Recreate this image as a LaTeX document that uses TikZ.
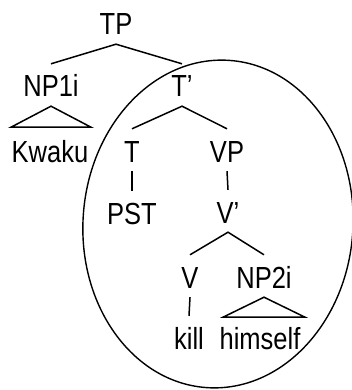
\documentclass[tikz,border=0pt]{standalone}
\usepackage{fontspec}
\setmainfont{Liberation Sans}
\usepackage{graphicx}
\newcommand{\tlab}[1]{\scalebox{1.02}[1.22]{#1}}
\begin{document}
\begin{tikzpicture}[x=1pt,y=-1pt,
  tn/.style={inner sep=0pt, text height=33pt, text depth=9pt, anchor=base,
    font=\fontsize{25}{28}\selectfont},
  edge/.style={line width=1.5pt},
  ring/.style={line width=1.4pt}]
\useasboundingbox (0,0) rectangle (352,390);
\node[tn] (TP) at (116,35) {\tlab{TP}};
\node[tn] (NP1i) at (51,97) {\tlab{NP1i}};
\node[tn] (Kwaku) at (50,162) {\tlab{Kwaku}};
\node[tn] (Tbar) at (182,97) {\tlab{T'}};
\node[tn] (T) at (132,162) {\tlab{T}};
\node[tn] (VP) at (227,162) {\tlab{VP}};
\node[tn] (PST) at (132,224) {\tlab{PST}};
\node[tn] (Vbar) at (228,223) {\tlab{V'}};
\node[tn] (V) at (190,288) {\tlab{V}};
\node[tn] (NP2i) at (264,288) {\tlab{NP2i}};
\node[tn] (kill) at (189,349) {\tlab{kill}};
\node[tn] (himself) at (260,349) {\tlab{himself}};
\draw[edge] (NP1i.north) -- (TP.south) -- (Tbar.north);
\draw[edge] (T.north) -- (Tbar.south) -- (VP.north);
\draw[edge] (V.north) -- (Vbar.south) -- (NP2i.north);
\draw[edge] (T.south) -- (PST.north);
\draw[edge] (VP.south) -- (Vbar.north);
\draw[edge] (V.south) -- (kill.north);
\draw[edge] (NP1i.south) -- ++(-40,21) -- ++(80,0) -- cycle;
\draw[edge] (NP2i.south) -- ++(-41,20) -- ++(82,0) -- cycle;
\draw[ring] (218,224) ellipse[x radius=135, y radius=164, rotate=-4];
\end{tikzpicture}
\end{document}
